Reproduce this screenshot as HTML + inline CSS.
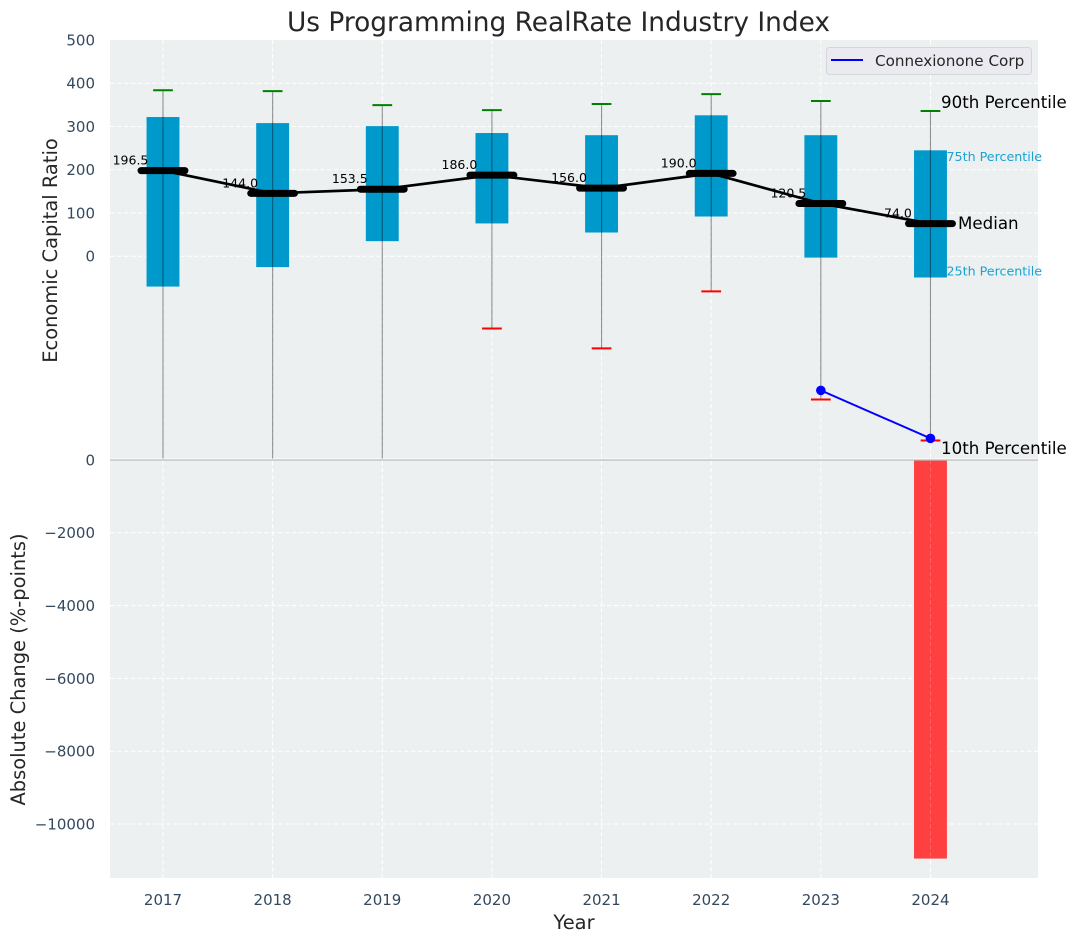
<!DOCTYPE html>
<html lang="en">
<head>
<meta charset="utf-8">
<title>Us Programming RealRate Industry Index</title>
<style>
html,body{margin:0;padding:0;background:#fff;}
svg{display:block;}
text{font-family:"DejaVu Sans","Liberation Sans",sans-serif;}
</style>
</head>
<body>
<svg id="chart" xmlns="http://www.w3.org/2000/svg" width="1076" height="942" viewBox="0 0 1076 942">
  <defs>
    <clipPath id="clip-top"><rect x="110" y="40" width="928" height="418.5"/></clipPath>
  </defs>
  <rect x="0" y="0" width="1076" height="942" fill="#ffffff"/>
  <rect x="110" y="40" width="928" height="420" fill="#ecf0f1"/>
  <rect x="110" y="460" width="928" height="418" fill="#ecf0f1"/>
  <text x="558.5" y="31" text-anchor="middle" font-size="26.4" fill="#262626">Us Programming RealRate Industry Index</text>
  <text transform="translate(57,250.5) rotate(-90)" text-anchor="middle" font-size="19.45" fill="#262626">Economic Capital Ratio</text>
  <text transform="translate(25,669.5) rotate(-90)" text-anchor="middle" font-size="19.45" fill="#262626">Absolute Change (%-points)</text>
  <text x="574" y="929" text-anchor="middle" font-size="19.45" fill="#262626">Year</text>
  <g id="grid-layer"></g>
  <g id="tick-layer"></g>
  <g id="bar-layer"></g>
  <g id="grid-over-layer"></g>
  <g id="box-layer"></g>
  <g id="whisker-layer" clip-path="url(#clip-top)"></g>
  <g id="series-layer"></g>
  <g id="median-layer"></g>
  <line x1="110" x2="1038" y1="459" y2="459" stroke="#ffffff" stroke-width="1"/>
  <line x1="110" x2="1038" y1="460" y2="460" stroke="#b8bcbd" stroke-width="1.2"/>
  <text x="941" y="108" font-size="16.67" fill="#000000">90th Percentile</text>
  <text x="946.5" y="161" font-size="12.67" fill="#19a3d1">75th Percentile</text>
  <text x="958" y="229" font-size="16.67" fill="#000000">Median</text>
  <text x="946.5" y="275.5" font-size="12.67" fill="#19a3d1">25th Percentile</text>
  <text x="941" y="454" font-size="16.67" fill="#000000">10th Percentile</text>
  <g>
    <rect x="826.5" y="47.5" width="205" height="27" rx="3" fill="#eaeaf0" stroke="#d5d6da" stroke-width="1"/>
    <line x1="831" x2="863" y1="60" y2="60" stroke="#0000ff" stroke-width="2"/>
    <text x="875" y="66" font-size="15.2" fill="#262626">Connexionone Corp</text>
  </g>
</svg>
<script>
// Chart data
const years = [2017, 2018, 2019, 2020, 2021, 2022, 2023, 2024];
const p90 = [384, 382, 349.5, 338, 352, 375, 359, 336];
const p75 = [322, 308, 301, 285, 280, 326, 280, 245];
const medians = [196.5, 144.0, 153.5, 186.0, 156.0, 190.0, 120.5, 74.0];
const p25 = [-70, -25, 35, 76, 55, 92, -3, -49];
const p10 = [-700, -700, -700, -167, -213, -81, -331, -426];
const companyYears = [2023, 2024];
const companyValues = [-310, -421];
const changeYears = [2024];
const changeValues = [-10950];
const topTicks = [0, 100, 200, 300, 400, 500];
const bottomTicks = [0, -2000, -4000, -6000, -8000, -10000];

// Axis functions
const NS = 'http://www.w3.org/2000/svg';
const xScale = function (year) { return 163 + (year - 2017) * 109.64; };
const yTop = function (v) { return 256.3 - v * 0.4325; };
const yBottom = function (v) { return 460 - v * 0.0364; };
const BOX_W = 0.3 * 109.64;
const MED_HALF = 0.2 * 109.64;
const CAP_HALF = 0.09 * 109.64;
const MEDIAN_NUDGE = -0.7;

function mk(tag, attrs, parent, txt) {
  const el = document.createElementNS(NS, tag);
  Object.keys(attrs).forEach(function (k) { el.setAttribute(k, attrs[k]); });
  if (txt !== undefined) el.textContent = txt;
  parent.appendChild(el);
  return el;
}
const g = function (id) { return document.getElementById(id); };
const gridStyle = { stroke: '#ffffff', 'stroke-width': 1, 'stroke-dasharray': '4.5,2.5' };
const fmtTick = function (v) { return v < 0 ? '\u2212' + Math.abs(v) : String(v); };

// Grid and ticks
years.forEach(function (yr) {
  const x = xScale(yr);
  const top = mk('line', Object.assign({ x1: x, x2: x, y1: 40, y2: 458 }, gridStyle), g('grid-layer'));
  
  
  const bot = mk('line', Object.assign({ x1: x, x2: x, y1: 461, y2: 878 }, gridStyle), g('grid-layer'));
  
  
  const label = mk('text', { x: x, y: 905, 'text-anchor': 'middle', 'font-size': 15, fill: '#34495e' }, g('tick-layer'), String(yr));
  
  
});
topTicks.forEach(function (v) {
  const y = yTop(v);
  if (v < 500) {
    const ln = mk('line', Object.assign({ x1: 110, x2: 1038, y1: y, y2: y }, gridStyle), g('grid-layer'));
    
    
  }
  const label = mk('text', { x: 95, y: y + 5.4, 'text-anchor': 'end', 'font-size': 15, fill: '#34495e' }, g('tick-layer'), fmtTick(v));
  
  
});
bottomTicks.forEach(function (v) {
  const y = yBottom(v);
  if (v !== 0) {
    const ln = mk('line', Object.assign({ x1: 110, x2: 1038, y1: y, y2: y }, gridStyle), g('grid-layer'));
    
    
  }
  const label = mk('text', { x: 95, y: y + 5.4, 'text-anchor': 'end', 'font-size': 15, fill: '#34495e' }, g('tick-layer'), fmtTick(v));
  
  
});

// Change bars
changeYears.forEach(function (yr, i) {
  const x = xScale(yr);
  const y0 = yBottom(0);
  const y1 = yBottom(changeValues[i]);
  const bar = mk('rect', { x: x - BOX_W / 2, y: y0, width: BOX_W, height: y1 - y0, fill: '#ff4040' }, g('bar-layer'));
  
  
  const over = mk('line', { x1: x, x2: x, y1: y0, y2: y1, stroke: '#ffffff', 'stroke-opacity': 0.18, 'stroke-width': 1, 'stroke-dasharray': '4.5,2.5' }, g('grid-over-layer'));
  
  
});

// Boxes, whiskers, caps
years.forEach(function (yr, i) {
  const x = xScale(yr);
  const yHi = yTop(p75[i]);
  const yLo = yTop(p25[i]);
  const box = mk('rect', { x: x - BOX_W / 2, y: yHi, width: BOX_W, height: yLo - yHi, fill: '#0099cc' }, g('box-layer'));
  
  
  const w = mk('line', { x1: x, x2: x, y1: yTop(p90[i]), y2: yTop(p10[i]), stroke: '#000000', 'stroke-opacity': 0.42, 'stroke-width': 1.1 }, g('whisker-layer'));
  
  
  const capHi = mk('line', { x1: x - CAP_HALF, x2: x + CAP_HALF, y1: yTop(p90[i]), y2: yTop(p90[i]), stroke: '#008000', 'stroke-width': 2 }, g('whisker-layer'));
  
  
  const capLo = mk('line', { x1: x - CAP_HALF, x2: x + CAP_HALF, y1: yTop(p10[i]), y2: yTop(p10[i]), stroke: '#ff0000', 'stroke-width': 2 }, g('whisker-layer'));
  
  
});

// Company series
const companyPoints = companyYears.map(function (yr, i) { return xScale(yr) + ',' + yTop(companyValues[i]); }).join(' ');
const companyLine = mk('polyline', { points: companyPoints, fill: 'none', stroke: '#0000ff', 'stroke-width': 2 }, g('series-layer'));


companyYears.forEach(function (yr, i) {
  const pt = mk('circle', { cx: xScale(yr), cy: yTop(companyValues[i]), r: 4.8, fill: '#0000ff' }, g('series-layer'));
  
  
});

// Median trend, bars and labels
const medianPoints = years.map(function (yr, i) { return xScale(yr) + ',' + (yTop(medians[i]) + MEDIAN_NUDGE); }).join(' ');
const medianLine = mk('polyline', { points: medianPoints, fill: 'none', stroke: '#000000', 'stroke-width': 2.7 }, g('median-layer'));


years.forEach(function (yr, i) {
  const x = xScale(yr);
  const y = yTop(medians[i]) + MEDIAN_NUDGE;
  const bar = mk('line', { x1: x - MED_HALF, x2: x + MED_HALF, y1: y, y2: y, stroke: '#000000', 'stroke-width': 7, 'stroke-linecap': 'round' }, g('median-layer'));
  
  
  const label = mk('text', { x: x - 32.5, y: y - 6, 'text-anchor': 'middle', 'font-size': 12.5, fill: '#000000' }, g('median-layer'), medians[i].toFixed(1));
  
  
});
</script>
</body>
</html>
